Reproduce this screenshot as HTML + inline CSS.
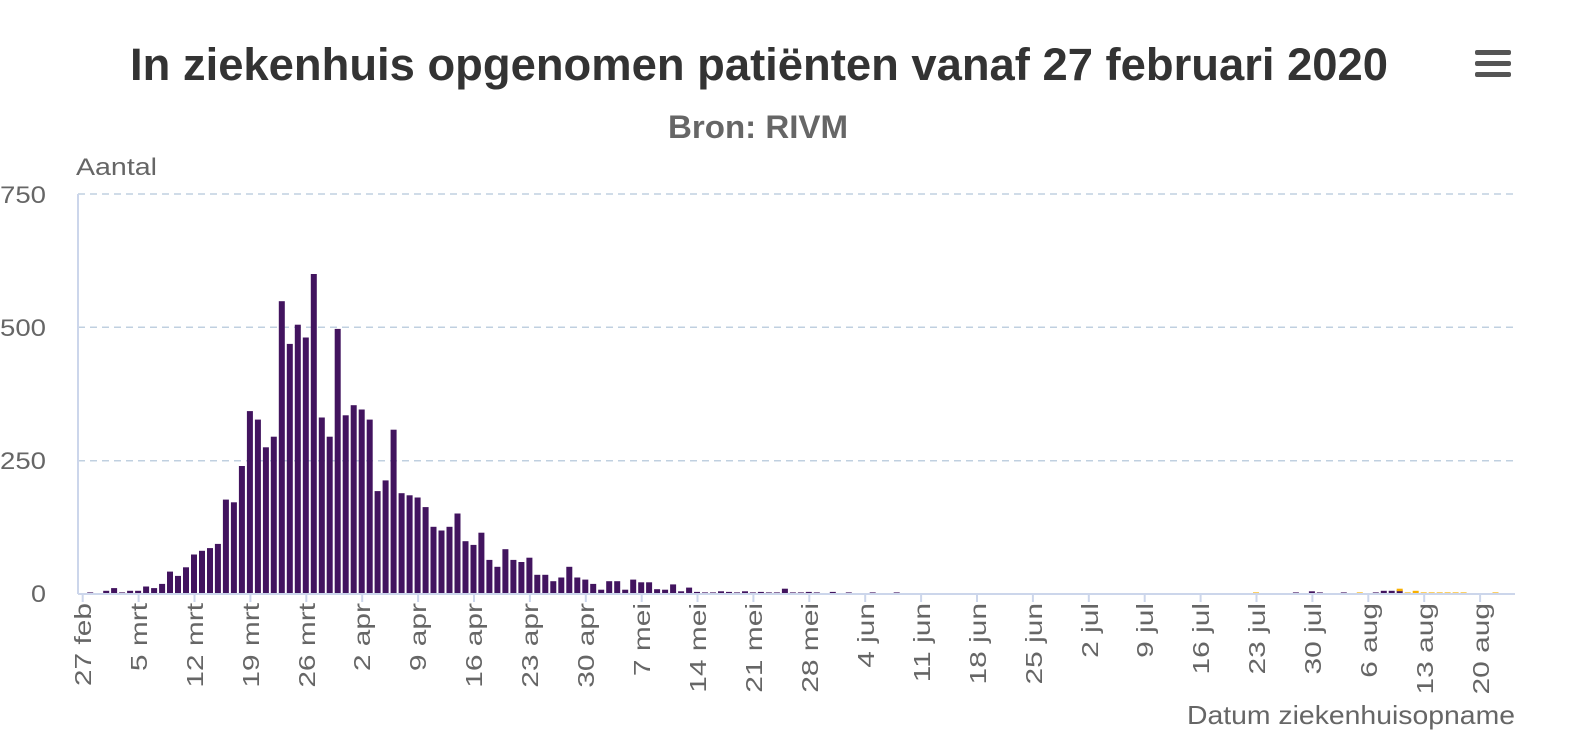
<!DOCTYPE html>
<html><head><meta charset="utf-8"><style>
body{margin:0;background:#fff;width:1577px;height:746px;overflow:hidden;font-family:"Liberation Sans",sans-serif}
svg text{font-family:"Liberation Sans",sans-serif}
</style></head><body>
<svg id="s" width="1577" height="746" viewBox="0 0 1577 746">
<text x="130" y="80" font-size="45" font-weight="bold" fill="#333" textLength="1258" lengthAdjust="spacingAndGlyphs">In ziekenhuis opgenomen patiënten vanaf 27 februari 2020</text>
<text x="668" y="138" font-size="32" font-weight="bold" fill="#666" textLength="180" lengthAdjust="spacingAndGlyphs">Bron: RIVM</text>
<g fill="#555"><rect x="1475" y="50" width="36" height="5" rx="2"/><rect x="1475" y="61" width="36" height="5" rx="2"/><rect x="1475" y="72" width="36" height="5" rx="2"/></g>
<text x="76" y="175" font-size="24" fill="#666" textLength="81" lengthAdjust="spacingAndGlyphs">Aantal</text>
<g stroke="#c0d0e0" stroke-width="1.5" stroke-dasharray="7,5">
<line x1="78" y1="194" x2="1515" y2="194"/><line x1="78" y1="327.3" x2="1515" y2="327.3"/><line x1="78" y1="460.7" x2="1515" y2="460.7"/></g>
<g font-size="24" fill="#666">
<text x="0" y="203" textLength="46" lengthAdjust="spacingAndGlyphs">750</text>
<text x="0" y="336" textLength="46" lengthAdjust="spacingAndGlyphs">500</text>
<text x="0" y="469" textLength="46" lengthAdjust="spacingAndGlyphs">250</text>
<text x="31" y="602" textLength="15" lengthAdjust="spacingAndGlyphs">0</text></g>
<line x1="78" y1="194" x2="78" y2="594" stroke="#ccd6eb" stroke-width="2"/>
<g id="bars"></g>
<line x1="78" y1="594" x2="1515" y2="594" stroke="#ccd6eb" stroke-width="2"/>
<g id="ticks" stroke="#ccd6eb" stroke-width="2"></g>
<g id="xl" font-size="23" fill="#666" text-anchor="end">
<text transform="translate(91,603) rotate(-90)">27 feb</text>
<text transform="translate(147,603) rotate(-90)">5 mrt</text>
<text transform="translate(203,603) rotate(-90)">12 mrt</text>
<text transform="translate(259,603) rotate(-90)">19 mrt</text>
<text transform="translate(315,603) rotate(-90)">26 mrt</text>
<text transform="translate(370,603) rotate(-90)">2 apr</text>
<text transform="translate(426,603) rotate(-90)">9 apr</text>
<text transform="translate(482,603) rotate(-90)">16 apr</text>
<text transform="translate(538,603) rotate(-90)">23 apr</text>
<text transform="translate(594,603) rotate(-90)">30 apr</text>
<text transform="translate(650,603) rotate(-90)">7 mei</text>
<text transform="translate(706,603) rotate(-90)">14 mei</text>
<text transform="translate(762,603) rotate(-90)">21 mei</text>
<text transform="translate(818,603) rotate(-90)">28 mei</text>
<text transform="translate(874,603) rotate(-90)">4 jun</text>
<text transform="translate(930,603) rotate(-90)">11 jun</text>
<text transform="translate(986,603) rotate(-90)">18 jun</text>
<text transform="translate(1042,603) rotate(-90)">25 jun</text>
<text transform="translate(1098,603) rotate(-90)">2 jul</text>
<text transform="translate(1153,603) rotate(-90)">9 jul</text>
<text transform="translate(1209,603) rotate(-90)">16 jul</text>
<text transform="translate(1265,603) rotate(-90)">23 jul</text>
<text transform="translate(1321,603) rotate(-90)">30 jul</text>
<text transform="translate(1377,603) rotate(-90)">6 aug</text>
<text transform="translate(1433,603) rotate(-90)">13 aug</text>
<text transform="translate(1489,603) rotate(-90)">20 aug</text>
</g>
<text x="1187" y="724" font-size="26" fill="#666" textLength="328" lengthAdjust="spacingAndGlyphs">Datum ziekenhuisopname</text>
</svg>
<script>
var p=[0,3,0,6,11,3,6,6,14,11,19,42,34,50,74,81,86,94,177,172,240,343,327,275,295,549,469,505,481,600,331,295,497,335,354,346,327,193,213,308,189,185,181,163,126,119,126,151,99,92,115,64,51,84,64,60,68,36,36,24,31,51,31,27,19,8,24,24,8,27,22,22,9,8,18,5,12,4,3,3,5,4,3,5,3,4,3,3,10,3,3,4,3,0,4,0,3,0,0,3,0,0,3];
var o={};
p[152]=3;p[154]=5;p[155]=3;p[158]=3;p[162]=3;p[163]=6;p[164]=6;p[165]=7;
o[147]=3;o[160]=3;o[165]=3;o[166]=3;o[167]=6;o[168]=3;o[169]=3;o[170]=3;o[171]=3;o[172]=3;o[173]=3;o[177]=3;
var k=0.5333,g=document.getElementById('bars'),h='';
for(var d=0;d<180;d++){var x=82.2+d*7.985-3,v=p[d]||0,w=o[d]||0;
if(v>0)h+='<rect x="'+x.toFixed(1)+'" y="'+(594-v*k).toFixed(1)+'" width="6" height="'+(v*k).toFixed(1)+'" fill="#42145f"/>';
if(w>0)h+='<rect x="'+x.toFixed(1)+'" y="'+(594-(v+w)*k).toFixed(1)+'" width="6" height="'+Math.max(w*k,2.5).toFixed(1)+'" fill="#f9b000"/>';}
g.innerHTML=h;
var t='';for(var i=0;i<26;i++){var tx=82.7+i*7*7.985;t+='<line x1="'+tx.toFixed(1)+'" y1="594" x2="'+tx.toFixed(1)+'" y2="602"/>';}
document.getElementById('ticks').innerHTML=t;
var ts=document.querySelectorAll('#xl text');
for(var j=0;j<ts.length;j++){var L=ts[j].getComputedTextLength();ts[j].setAttribute('textLength',(L*1.3).toFixed(1));ts[j].setAttribute('lengthAdjust','spacingAndGlyphs');}
</script>
</body></html>
